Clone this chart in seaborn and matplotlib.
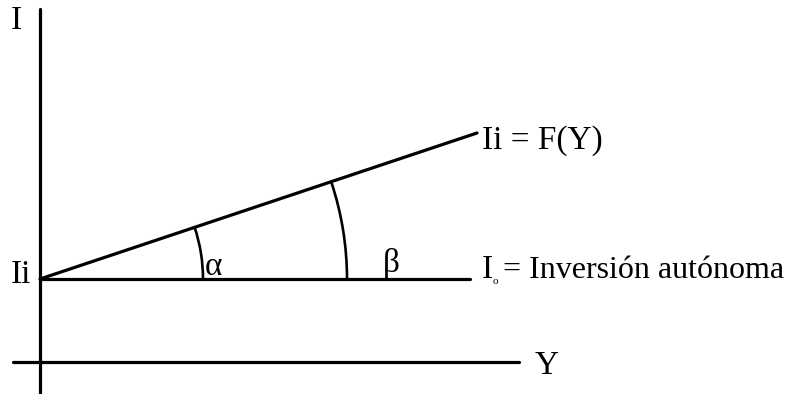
import numpy as np
import pandas as pd
import matplotlib
matplotlib.use("Agg")
import matplotlib.pyplot as plt
from matplotlib.patches import Arc
import seaborn as sns

# diagram geometry (pixel-like units, y grows downward)
ORIGIN = (40, 279)
AXIS_V_X = [40, 40]
AXIS_V_Y = [9, 394]
AXIS_H_X = [13, 519]
AXIS_H_Y = [362, 362]
AUTONOMA_X = [40, 470]
AUTONOMA_Y = [279, 279]
INDUCIDA_X = [40, 477]
INDUCIDA_Y = [279, 133]
ARC_RADII = [163, 307]

LABELS = ["I", "Ii", "α", "β", "Ii = F(Y)", "I", "o", "= Inversión autónoma", "Y"]
LABEL_X = [11, 11, 205, 383, 482, 482, 493, 503, 535]
LABEL_Y = [29, 283, 275, 272, 149, 278, 284, 278, 374]
LABEL_SIZE = [24, 24, 24, 24, 24, 24, 8, 23, 24]

FONT = "Liberation Serif"


def build_segments():
    rows = []
    segs = {
        "eje_I": (AXIS_V_X, AXIS_V_Y),
        "eje_Y": (AXIS_H_X, AXIS_H_Y),
        "autonoma": (AUTONOMA_X, AUTONOMA_Y),
        "inducida": (INDUCIDA_X, INDUCIDA_Y),
    }
    for name, (xs, ys) in segs.items():
        for i, (x, y) in enumerate(zip(xs, ys)):
            rows.append({"seg": name, "order": i, "x": x, "y": y})
    return pd.DataFrame(rows)


def main():
    sns.set_style("white")
    plt.rcParams["font.family"] = [FONT, "DejaVu Serif"]

    fig = plt.figure(figsize=(7.94, 3.94), dpi=100)
    ax = fig.add_axes([0, 0, 1, 1])

    df = build_segments()
    sns.lineplot(data=df, x="x", y="y", units="seg", estimator=None,
                 sort=False, color="black", lw=2.3, ax=ax, legend=False)

    ang = np.degrees(np.arctan2(INDUCIDA_Y[1] - INDUCIDA_Y[0],
                                INDUCIDA_X[1] - INDUCIDA_X[0]))
    for r in ARC_RADII:
        ax.add_patch(Arc(ORIGIN, 2 * r, 2 * r, theta1=ang, theta2=0,
                         color="black", lw=1.9))

    for txt, x, y, s in zip(LABELS, LABEL_X, LABEL_Y, LABEL_SIZE):
        ax.text(x, y, txt, fontsize=s, ha="left", va="baseline", color="black")

    ax.set_xlim(0, 794)
    ax.set_ylim(394, 0)
    ax.set_aspect("equal")
    ax.axis("off")

    fig.savefig("out.png", dpi=100)


if __name__ == "__main__":
    main()
